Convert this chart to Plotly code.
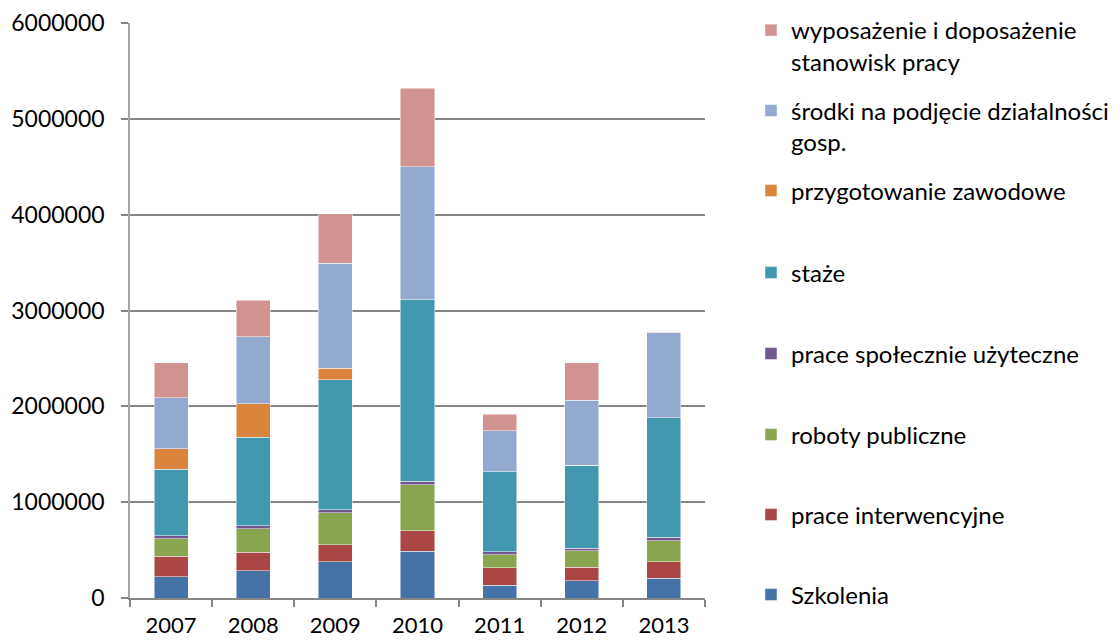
import plotly.graph_objects as go

years = ["2007", "2008", "2009", "2010", "2011", "2012", "2013"]

szkolenia = [221000, 283000, 377000, 488000, 133000, 179000, 206000]
prace_interwencyjne = [215000, 194000, 180000, 216000, 181000, 142000, 171000]
roboty_publiczne = [184000, 244000, 331000, 479000, 139000, 171000, 222000]
prace_spoleczne = [28000, 34000, 31000, 34000, 28000, 27000, 34000]
staze = [698000, 920000, 1356000, 1893000, 836000, 865000, 1250000]
przygotowanie = [211000, 351000, 125000, 0, 0, 0, 0]
srodki = [534000, 698000, 1091000, 1389000, 427000, 681000, 885000]
wyposazenie = [365000, 385000, 521000, 820000, 174000, 392000, 6000]

series = [
    ("Szkolenia", szkolenia, "#4572A7"),
    ("prace interwencyjne", prace_interwencyjne, "#AA4643"),
    ("roboty publiczne", roboty_publiczne, "#89A54E"),
    ("prace społecznie użyteczne", prace_spoleczne, "#71588F"),
    ("staże", staze, "#4198AF"),
    ("przygotowanie zawodowe", przygotowanie, "#DB843D"),
    ("środki na podjęcie działalności<br>gosp.", srodki, "#93A9CF"),
    ("wyposażenie i doposażenie<br>stanowisk pracy", wyposazenie, "#D19392"),
]

# layout geometry (pixels)
L, T, PW, PH = 122, 15, 575, 575.5
W, H = 1120, 642
# legend marker centres (page pixels, top to bottom = last series first)
leg_centres = [596, 516, 436, 355, 274, 192, 112, 31.5]
PAGE_OFF = 8
LEG_TOP_OFF = 23.5
leg_left = 743

fig = go.Figure()
layout_legends = {}
for i, (name, vals, col) in enumerate(series):
    lname = "legend" if i == 0 else f"legend{i+1}"
    fig.add_trace(go.Bar(
        x=years, y=vals, name=name, legend=lname,
        marker=dict(color=col, line=dict(color="rgba(255,255,255,0.6)", width=0.8)),
    ))
    top_fig = leg_centres[i] - PAGE_OFF - LEG_TOP_OFF
    layout_legends[lname] = dict(
        xref="container", yref="container",
        x=leg_left / W, y=1 - top_fig / H,
        xanchor="left", yanchor="top", valign="top",
        font=dict(size=24, color="#000000"), bgcolor="rgba(0,0,0,0)",
        itemclick=False, itemdoubleclick=False,
    )

fig.update_layout(
    width=W, height=H,
    barmode="stack", bargap=0.585,
    paper_bgcolor="white", plot_bgcolor="white",
    margin=dict(l=L, r=W - L - PW, t=T, b=H - T - PH, autoexpand=False),
    font=dict(family="Lato, Open Sans, sans-serif", size=23, color="#000000"),
    showlegend=True,
    xaxis=dict(
        showline=True, linecolor="#868686", linewidth=1.5,
        ticks="outside", tickson="boundaries", ticklen=7, tickcolor="#868686",
        tickwidth=1.5, showgrid=False, ticklabelstandoff=7,
        tickfont=dict(size=22), automargin=False,
    ),
    yaxis=dict(
        range=[0, 6000000], dtick=1000000, tickformat="d",
        showline=True, linecolor="#A6A6A6", linewidth=1.5,
        ticks="outside", ticklen=7, tickcolor="#868686", tickwidth=1.5,
        showgrid=True, gridcolor="#868686", gridwidth=1.5, zeroline=False,
        ticklabelstandoff=12, tickfont=dict(size=23), automargin=False,
    ),
    **layout_legends,
)

fig.write_html("out.html")
